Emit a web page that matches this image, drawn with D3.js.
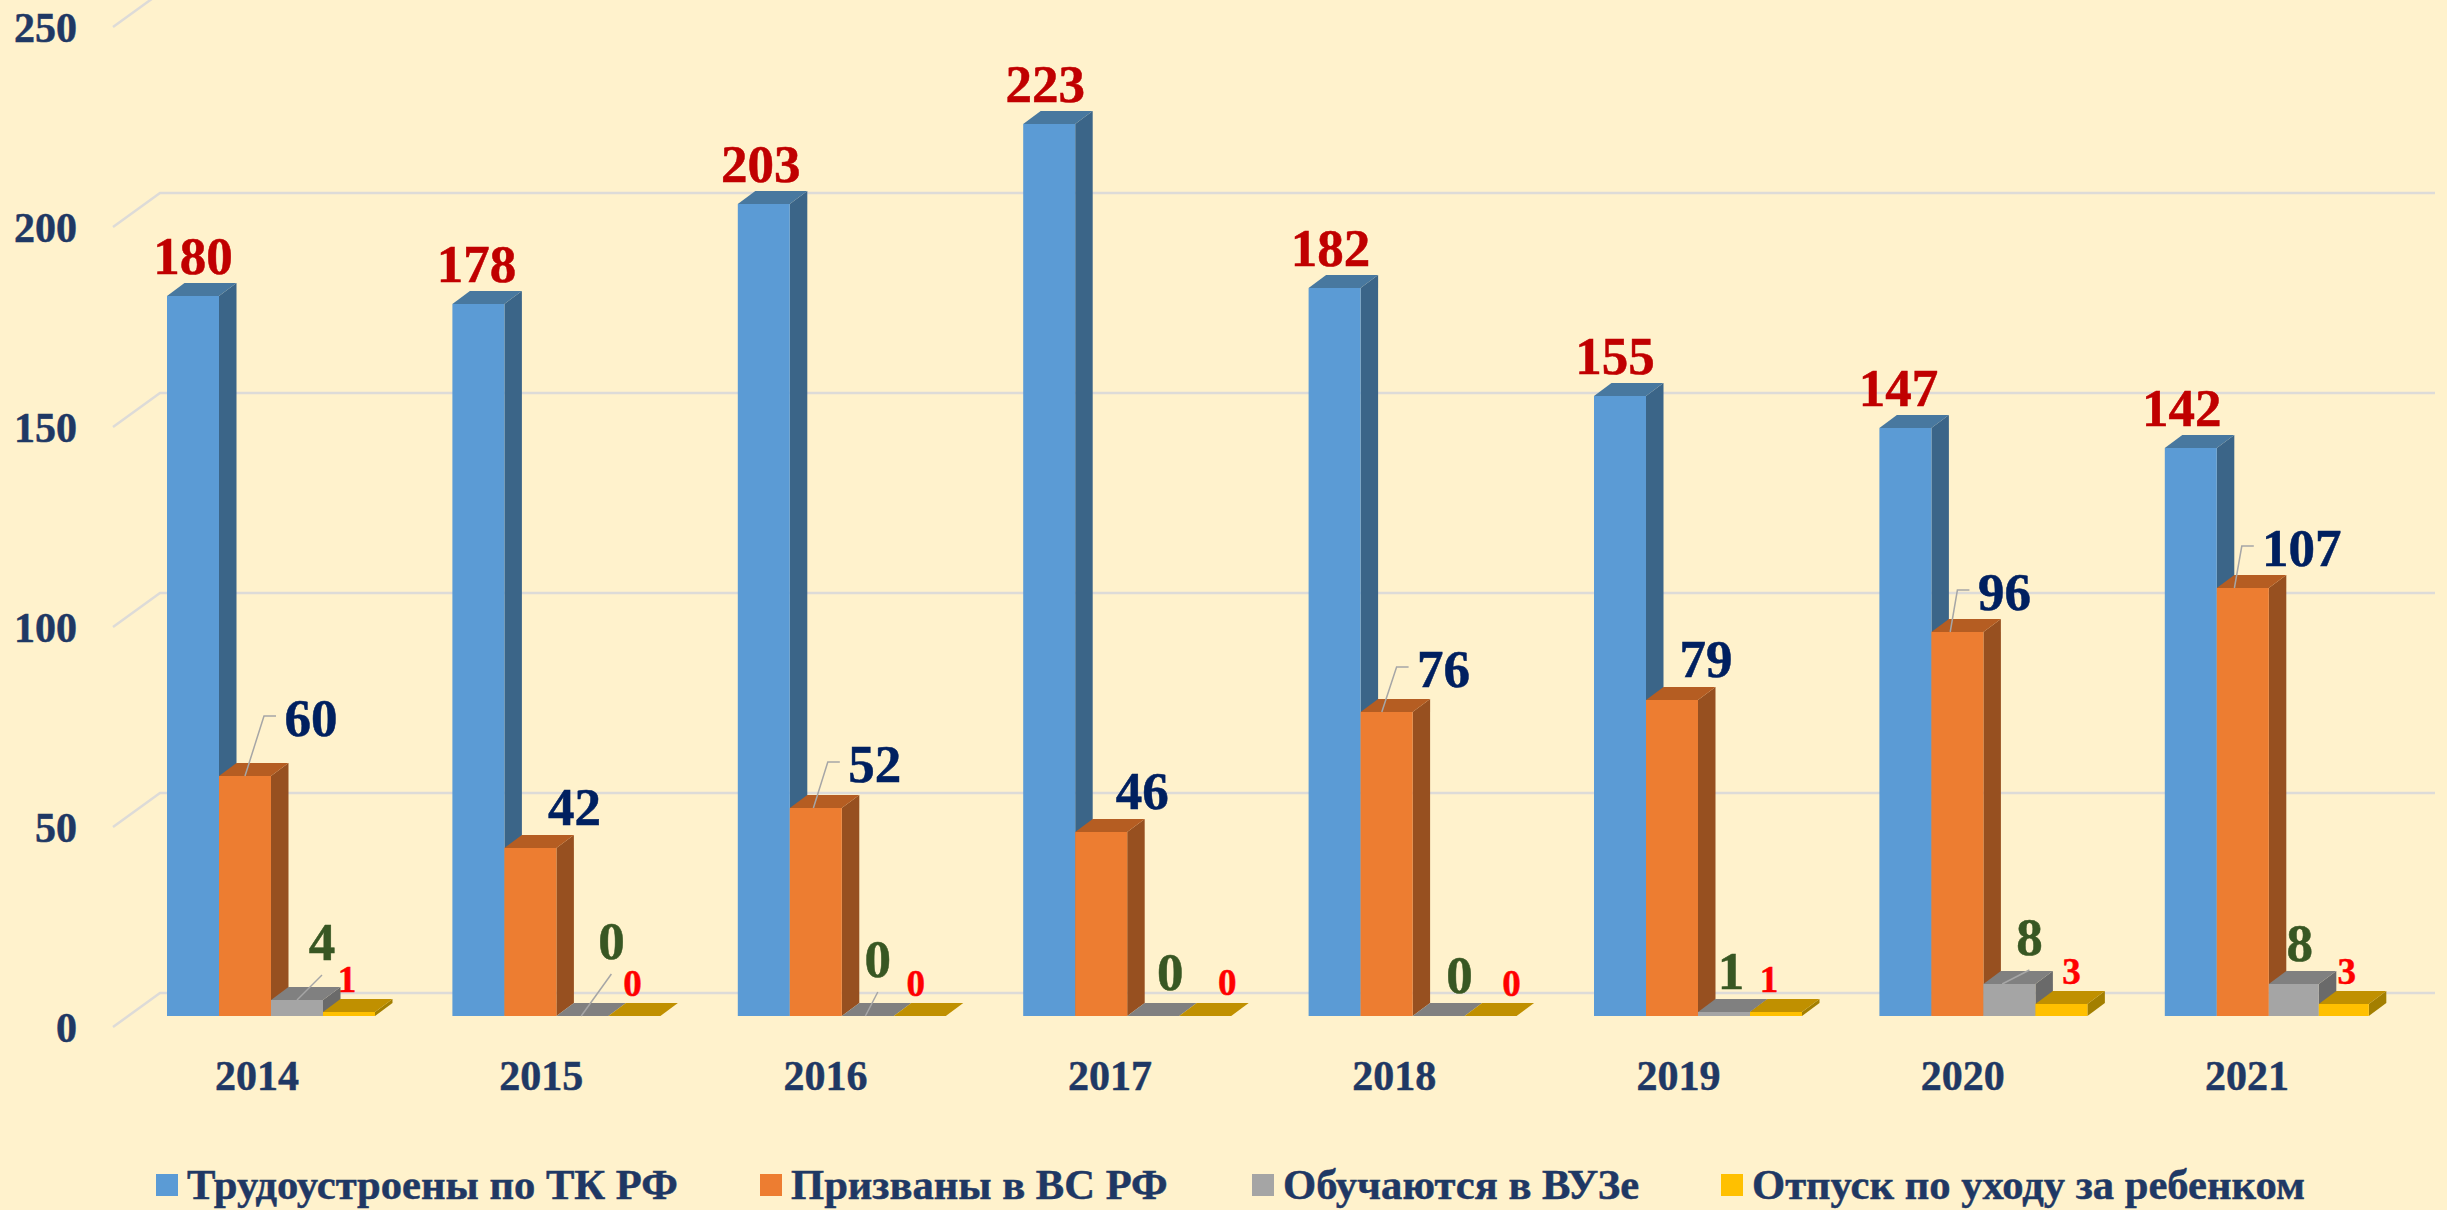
<html>
    <head>
        <meta charset='UTF-8'>
        <script src="https://d3js.org/d3.v7.min.js"></script>
        <style>
            html, body { margin: 0; padding: 0; background: #FFF2CC; overflow: hidden; }
            svg { display: block; }
            text { font-family: 'Liberation Serif', 'Times New Roman', serif; font-weight: bold; stroke-width: 0.5px; paint-order: stroke; }
        </style>
    </head>
    <body>
        <svg id="chart" width="2447" height="1210"></svg>

        <script>
            //chart data
            const years = ['2014', '2015', '2016', '2017', '2018', '2019', '2020', '2021'];
            const seriesNames = ['Трудоустроены по ТК РФ', 'Призваны в ВС РФ', 'Обучаются в ВУЗе', 'Отпуск по уходу за ребенком'];
            const employed = [180, 178, 203, 223, 182, 155, 147, 142];
            const drafted = [60, 42, 52, 46, 76, 79, 96, 107];
            const studying = [4, 0, 0, 0, 0, 1, 8, 8];
            const leave = [1, 0, 0, 0, 0, 1, 3, 3];
            const yTicks = [0, 50, 100, 150, 200, 250];

            //hand placed label nudges from the bar top centre, one per year
            const employedNudge = [[0,-22],[-2,-22],[-3,-22],[-4,-22],[-4,-22],[-5,-22],[-7,-22],[-9,-22]];
            const draftedNudge = [[66,-40],[44,-23],[59,-26],[41,-23],[57,-25],[34,-23],[47,-22],[59,-22]];
            const studyingNudge = [[25,-40],[29,-57],[10,-39],[17,-26],[21,-23],[7,-23],[20,-29],[6,-23]];
            const leaveNudge = [[-2,-20],[-2,-20],[-4,-20],[22,-21],[21,-20],[-7,-20],[10,-20],[3,-20]];

            //which years have a leader line
            const draftedLeaders = ['2014', '2016', '2018', '2020', '2021'];
            const studyingLeaders = ['2014', '2015', '2016', '2020'];

            const series = [
                {name: seriesNames[0], values: employed, nudge: employedNudge, front: '#5B9BD5', top: '#48789F', side: '#3B6588', label: '#C00000', size: 53, leaders: []},
                {name: seriesNames[1], values: drafted, nudge: draftedNudge, front: '#ED7D31', top: '#B55D22', side: '#975020', label: '#002060', size: 53, leaders: draftedLeaders},
                {name: seriesNames[2], values: studying, nudge: studyingNudge, front: '#A5A5A5', top: '#808080', side: '#6A6A6A', label: '#385723', size: 53, leaders: studyingLeaders},
                {name: seriesNames[3], values: leave, nudge: leaveNudge, front: '#FFC000', top: '#C09000', side: '#A37F00', label: '#FF0000', size: 37, leaders: []}
            ];

            const chart = d3.select('svg#chart');

            //3d layout of the original chart
            const depth = {x: 17.5, y: 13};
            const wall = {x: 47, y: 34};
            const baseY = 1016;
            const axisX = 113;
            const gridEnd = 2435;

            //front edge scale, bars sit 11px above the axis corner
            const yScale = d3.scaleLinear().domain([0, 250]).range([1027, 27]);
            const barY = v => yScale(v) - 11;

            const xScale = d3.scaleBand().domain(years)
                             .range([167 - 38.7, 167 - 38.7 + 8 * 285.4])
                             .paddingInner(0.2712).paddingOuter(0.1356);
            const barScale = d3.scaleBand().domain(seriesNames).range([0, xScale.bandwidth()]);

            //the two small bars of the last year are a little narrower in the original
            const trim = (year, s) => year === '2021' && series.indexOf(s) >= 2 ? 2 : 0;
            const barLeft = (year, s) => xScale(year) + barScale(s.name) - (year === '2021' && s === series[3] ? 2 : 0);
            const barWidth = (year, s) => barScale.bandwidth() - trim(year, s);

            //year labels run on a slightly tighter pitch than the bars
            const yearScale = d3.scaleBand().domain(years).range([257 - 142.15, 257 - 142.15 + 8 * 284.3]);

            //gridlines
            let grid = chart.append('g').attr('id', 'gridlines');
            grid.selectAll('path').data(yTicks).join('path')
                .attr('fill', 'none')
                .attr('stroke', '#DDDBD8')
                .attr('stroke-width', 2.5)
                .attr('d', d => {
                    const y = yScale(d);
                    return d3.line()([[axisX, y], [axisX + wall.x, y - wall.y], [gridEnd, y - wall.y]]);
                });

            //left axis
            let leftAxis = d3.axisLeft(yScale).tickValues(yTicks).tickSize(0).tickPadding(0);
            chart.append('g')
                 .attr('class', 'y axis')
                 .attr('transform', 'translate(77,0)')
                 .call(leftAxis)
                 .call(g => g.select('.domain').remove())
                 .selectAll('text')
                 .attr('dy', '0.34em')
                 .style('font-size', '42px')
                 .style('font-family', "'Liberation Serif', serif")
                 .attr('fill', '#1F3864')
                 .attr('stroke', '#1F3864');

            //bottom axis
            let bottomAxis = d3.axisBottom(yearScale).tickSize(0).tickPadding(0);
            chart.append('g')
                 .attr('class', 'x axis')
                 .attr('transform', 'translate(0,1090)')
                 .call(bottomAxis)
                 .call(g => g.select('.domain').remove())
                 .selectAll('text')
                 .attr('y', 0)
                 .attr('dy', 0)
                 .style('font-size', '42px')
                 .style('font-family', "'Liberation Serif', serif")
                 .attr('fill', '#1F3864')
                 .attr('stroke', '#1F3864');

            //bars, drawn left to right so each front covers the side of the one before
            let barArea = chart.append('g').attr('id', 'bars');
            let labelArea = chart.append('g').attr('id', 'labels');

            years.forEach((year, i) => {
                series.forEach(s => {
                    const v = s.values[i];
                    const x0 = barLeft(year, s);
                    const x1 = x0 + barWidth(year, s);
                    const y0 = barY(v);

                    //side face
                    barArea.append('path')
                           .attr('fill', s.side)
                           .attr('d', d3.line()([[x1, y0], [x1 + depth.x, y0 - depth.y], [x1 + depth.x, baseY - depth.y], [x1, baseY]]) + 'Z');
                    //top face
                    barArea.append('path')
                           .attr('fill', s.top)
                           .attr('d', d3.line()([[x0, y0], [x0 + depth.x, y0 - depth.y], [x1 + depth.x, y0 - depth.y], [x1, y0]]) + 'Z');
                    //front face
                    barArea.append('rect')
                           .attr('x', x0)
                           .attr('y', y0)
                           .attr('width', barWidth(year, s))
                           .attr('height', baseY - y0)
                           .attr('fill', s.front);
                });
            });

            //value labels and leader lines go on top of all bars
            series.forEach(s => {
                years.forEach((year, i) => {
                    const v = s.values[i];
                    const cx = barLeft(year, s) + barWidth(year, s) / 2;
                    const y0 = barY(v);
                    const lx = cx + s.nudge[i][0];
                    const ly = y0 + s.nudge[i][1];

                    labelArea.append('text')
                             .attr('x', lx)
                             .attr('y', ly)
                             .attr('text-anchor', 'middle')
                             .attr('fill', s.label)
                             .attr('stroke', s.label)
                             .style('font-size', s.size + 'px')
                             .text(v);

                    if (s.leaders.includes(year)) {
                        const start = [cx - 1.2 * i, y0];
                        let pts;
                        if (s === series[1]) {
                            const left = lx - String(v).length * 13;
                            pts = [start, [left - 21, ly - 20], [left - 9, ly - 20]];
                        } else {
                            pts = [start, [lx, ly + 15]];
                        }
                        labelArea.append('path')
                                 .attr('fill', 'none')
                                 .attr('stroke', '#A6A6A6')
                                 .attr('stroke-width', 1.5)
                                 .attr('d', d3.line()(pts));
                    }
                });
            });

            //legend
            const legendX = [156, 760, 1252, 1721];
            let legend = chart.append('g').attr('id', 'legend');
            series.forEach((s, i) => {
                legend.append('rect')
                      .attr('x', legendX[i])
                      .attr('y', 1174)
                      .attr('width', 22)
                      .attr('height', 22)
                      .attr('fill', s.front);
                legend.append('text')
                      .attr('x', legendX[i] + 31)
                      .attr('y', 1199)
                      .attr('fill', '#1F3864')
                      .attr('stroke', '#1F3864')
                      .style('font-size', '42.6px')
                      .text(s.name);
            });
        </script>
    </body>
</html>
